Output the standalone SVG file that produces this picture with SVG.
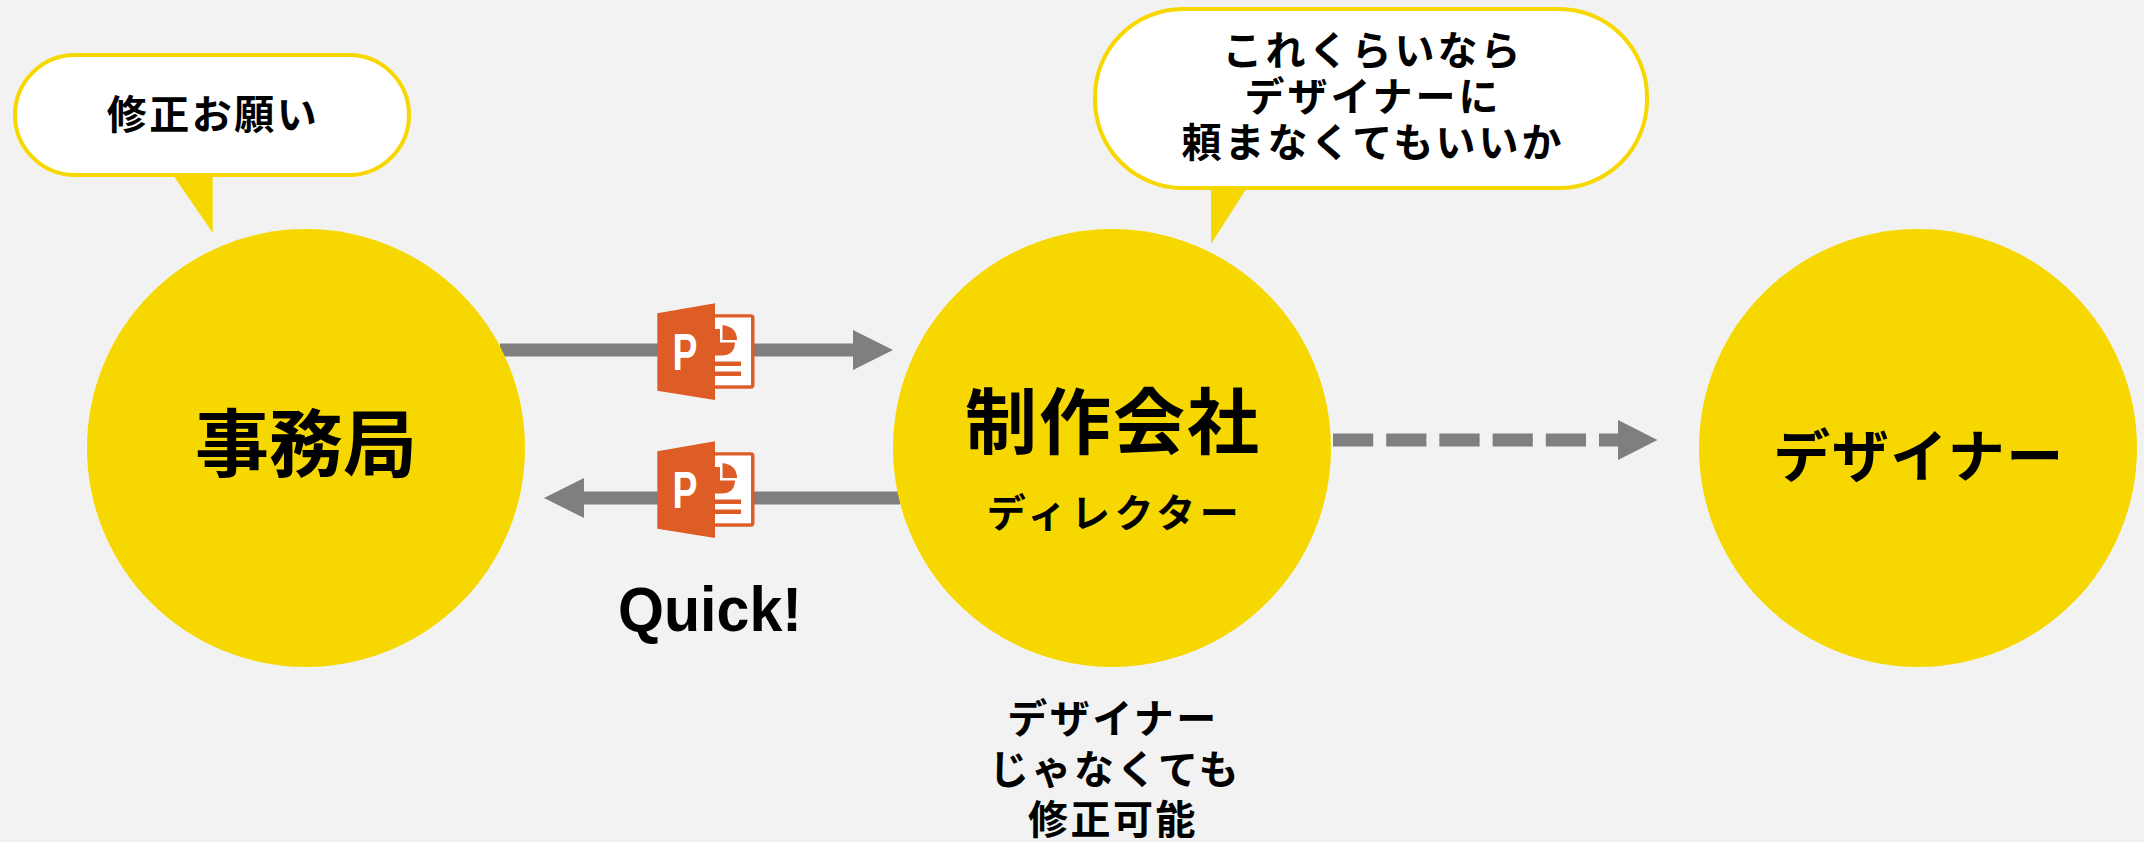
<svg xmlns="http://www.w3.org/2000/svg" width="2144" height="842" viewBox="0 0 2144 842">
<style>
.t{font-family:"Noto Sans CJK JP","Noto Sans",sans-serif;font-weight:700;fill:#000;text-anchor:middle}
.c{fill:#f6d800}
.b{fill:#fff;stroke:#f6d800;stroke-width:4}
.l{stroke:#7f7f7f;stroke-width:13;fill:none}
.h{fill:#7f7f7f}
.o{fill:#de5c26}
.w{fill:#fff}
</style>
<defs>
<g id="ppt">
<path class="o" d="M715 314.300H751Q754.500 314.300 754.500 318V385Q754.500 388.700 751 388.700H715Z"/>
<rect class="w" x="715" y="317.500" width="36" height="67.800"/>
<path class="o" d="M720 329H715V355.500H721Q735 355.500 735 342H720Z"/>
<path class="w" d="M720 325H738.500V342.500H720Z"/>
<path class="o" d="M722.500 325V340H737Q737 327 722.500 325Z"/>
<rect class="o" x="715" y="361.500" width="26" height="4.500"/>
<rect class="o" x="715" y="371.500" width="26" height="4.500"/>
<path class="o" d="M657.300 313.300L715 303.300V400L657.300 390.700Z"/>
<text transform="translate(672.500 369.500) scale(0.72 1)" style="font-family:'Liberation Sans',sans-serif;font-weight:700;font-size:52px;fill:#fff">P</text>
</g>
</defs>
<rect width="2144" height="842" fill="#f2f2f2"/>
<g id="connectors">
<path class="l" d="M500 350H855"/><path class="h" d="M853 330L893 350L853 370Z"/>
<path class="l" d="M900 498H582"/><path class="h" d="M584 478L544 498L584 518Z"/>
<path class="l" d="M1333 440H1620" stroke-dasharray="40.200 13"/><path class="h" d="M1618 420L1657.500 440L1618 460Z"/>
</g>
<g id="node-jimukyoku"><circle class="c" cx="306" cy="448" r="219"/><text class="t" x="306" y="471" font-size="74">事務局</text></g>
<g id="node-seisaku"><circle class="c" cx="1112" cy="448" r="219"/><text class="t" x="1113" y="448" font-size="72" letter-spacing="2">制作会社</text><text class="t" x="1115" y="527" font-size="39" letter-spacing="4.500">ディレクター</text></g>
<g id="node-designer"><circle class="c" cx="1918" cy="448" r="219"/><text class="t" x="1919" y="477" font-size="57" letter-spacing="1.500">デザイナー</text></g>
<g id="callout-1"><path class="c" d="M173 175H212.700V232.700Z"/><rect class="b" x="15" y="55" width="394" height="120" rx="60"/><text class="t" x="213" y="129" font-size="40" letter-spacing="2.500">修正お願い</text></g>
<g id="callout-2"><path class="c" d="M1211 186H1248L1211 244Z"/><rect class="b" x="1095" y="9" width="552" height="179" rx="88"/>
<text class="t" x="1373" y="65" font-size="40" letter-spacing="3">これくらいなら</text><text class="t" x="1373" y="111" font-size="40" letter-spacing="3">デザイナーに</text><text class="t" x="1373" y="157" font-size="40" letter-spacing="3">頼まなくてもいいか</text></g>
<g id="ppt-1"><use href="#ppt"/></g>
<g id="ppt-2"><use href="#ppt" y="138"/></g>
<text x="618" y="631" font-size="63" textLength="184" lengthAdjust="spacingAndGlyphs" style="font-family:'Liberation Sans',sans-serif;font-weight:700;fill:#000">Quick!</text>
<g id="note"><text class="t" x="1113" y="733" font-size="40" letter-spacing="2.500">デザイナー</text><text class="t" x="1115" y="784" font-size="40" letter-spacing="2.500">じゃなくても</text><text class="t" x="1113" y="834" font-size="40" letter-spacing="2.500">修正可能</text></g>
</svg>
